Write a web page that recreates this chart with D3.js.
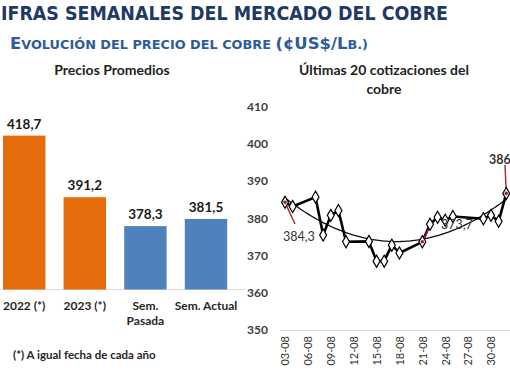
<!DOCTYPE html>
<html><head><meta charset="utf-8">
<script src="https://cdn.jsdelivr.net/npm/d3@7/dist/d3.min.js"></script>
<style>
html,body{margin:0;padding:0;background:#fff;overflow:hidden}
svg{display:block}
</style></head>
<body><svg id="c" width="510" height="382"></svg>
<script>
// ---- Data ----
const barCategories = [["2022 (*)"], ["2023 (*)"], ["Sem.", "Pasada"], ["Sem. Actual"]];
const barValues = [418.7, 391.2, 378.3, 381.5];
const barLabels = ["418,7", "391,2", "378,3", "381,5"];
const barColors = ["#E46C0A", "#E46C0A", "#4F81BD", "#4F81BD"];

const quoteDates = ["2023-08-03","2023-08-04","2023-08-07","2023-08-08","2023-08-09","2023-08-10","2023-08-11",
  "2023-08-14","2023-08-15","2023-08-16","2023-08-17","2023-08-18","2023-08-21","2023-08-22","2023-08-23",
  "2023-08-24","2023-08-25","2023-08-29","2023-08-30","2023-08-31","2023-09-01"];
const quoteValues = [384.3, 383.2, 385.7, 375.5, 380.8, 382.1, 373.7, 373.8, 368.5, 368.5, 372.8, 370.7,
  373.7, 378.4, 380.3, 379.5, 380.5, 379.9, 380.8, 379.2, 386.7];
const yTicks = [350, 360, 370, 380, 390, 400, 410];
const xTickDates = ["2023-08-03","2023-08-06","2023-08-09","2023-08-12","2023-08-15","2023-08-18",
  "2023-08-21","2023-08-24","2023-08-27","2023-08-30"];
const annotations = [
  {i: 0, text: "384,3", lx: 283, ly: 241, x1: 295, y1: 224, bold: false},
  {i: 12, text: "373,7", lx: 441, ly: 229, x1: 432, y1: 222, bold: false},
  {i: 20, text: "386", lx: 489, ly: 164, x1: 505, y1: 165, bold: true}
];

const svg = d3.select("#c");
const parse = d3.utcParse("%Y-%m-%d");
const fmt = d3.utcFormat("%d-%m");

// ---- Titles ----
svg.append("text").attr("x", 1).attr("y", 20)
  .attr("font-family", "DejaVu Sans").attr("font-weight", "bold").attr("font-size", 19)
  .attr("fill", "#1F3864").attr("textLength", 447).attr("lengthAdjust", "spacingAndGlyphs")
  .text("IFRAS SEMANALES DEL MERCADO DEL COBRE");

const sub = svg.append("text").attr("x", 10).attr("y", 49)
  .attr("font-family", "DejaVu Sans").attr("font-weight", "bold").attr("fill", "#2E5C99")
  .attr("textLength", 358).attr("lengthAdjust", "spacingAndGlyphs");
[["E",16],["VOLUCIÓN DEL PRECIO DEL COBRE ",12.5],["(¢US$/L",16],["B.)",12.5]].forEach(([t,s]) =>
  sub.append("tspan").attr("font-size", s).text(t));

const F = "Lato, 'Open Sans', sans-serif";

// ---- Bar chart ----
const xb = d3.scaleBand().domain(d3.range(barValues.length)).range([-6.1, 236.3])
  .paddingInner(0.3).paddingOuter(0.15);
const yb = d3.scaleLinear().domain([350, 430]).range([289.5, 289.5 - 80 * 2.24]);

svg.append("text").attr("x", 112).attr("y", 75).attr("text-anchor", "middle")
  .attr("font-family", F).attr("font-weight", "bold").attr("font-size", 14).attr("fill", "#222")
  .text("Precios Promedios");

svg.append("line").attr("x1", 0).attr("x2", 245).attr("y1", yb(350)).attr("y2", yb(350))
  .attr("stroke", "#d9d9d9").attr("stroke-width", 1);

svg.selectAll("rect.bar").data(barValues).join("rect").attr("class", "bar")
  .attr("x", (d, i) => xb(i)).attr("width", xb.bandwidth())
  .attr("y", d => yb(d)).attr("height", d => yb(350) - yb(d))
  .attr("fill", (d, i) => barColors[i]);

svg.selectAll("text.bl").data(barValues).join("text").attr("class", "bl")
  .attr("x", (d, i) => xb(i) + xb.bandwidth() / 2).attr("y", d => yb(d) - 7)
  .attr("text-anchor", "middle").attr("font-family", F).attr("font-weight", "bold")
  .attr("font-size", 13.5).attr("fill", "#1a1a1a").text((d, i) => barLabels[i]);

barCategories.forEach((lines, i) => {
  lines.forEach((ln, j) => {
    svg.append("text").attr("x", xb(i) + xb.bandwidth() / 2).attr("y", 310 + j * 14.5)
      .attr("text-anchor", "middle").attr("font-family", F).attr("font-weight", "bold")
      .attr("font-size", 12).attr("fill", "#262626").text(ln);
  });
});

svg.append("text").attr("x", 13).attr("y", 359).attr("font-family", F).attr("font-weight", "bold")
  .attr("font-size", 11.5).attr("fill", "#262626").text("(*) A igual fecha de cada año");

// ---- Line chart ----
const dates = quoteDates.map(parse);
const xl = d3.scaleUtc().domain([parse("2023-08-03"), parse("2023-09-01")]).range([285, 285 + 29 * 7.63]);
const yl = d3.scaleLinear().domain([350, 410]).range([330, 106.7]);

svg.append("text").attr("x", 384).attr("y", 75).attr("text-anchor", "middle")
  .attr("font-family", F).attr("font-weight", "bold").attr("font-size", 14).attr("fill", "#222")
  .text("Últimas 20 cotizaciones del");
svg.append("text").attr("x", 384).attr("y", 94).attr("text-anchor", "middle")
  .attr("font-family", F).attr("font-weight", "bold").attr("font-size", 14).attr("fill", "#222")
  .text("cobre");

// y axis
const yAxis = svg.append("g").attr("transform", "translate(268,0)")
  .call(d3.axisLeft(yl).tickValues(yTicks).tickSize(0).tickPadding(0).tickFormat(d3.format("d")));
yAxis.select(".domain").remove();
yAxis.selectAll("text").attr("font-family", F).attr("font-weight", "bold").attr("font-size", 12)
  .attr("fill", "#404040");

// x axis
const xAxis = svg.append("g").attr("transform", `translate(0,${yl(350)})`)
  .call(d3.axisBottom(xl).tickValues(xTickDates.map(parse)).tickSize(0).tickFormat(fmt));
xAxis.select(".domain").attr("d", `M280,0.5H520`).attr("stroke", "#d9d9d9");
xAxis.selectAll("text").attr("font-family", F).attr("font-size", 11).attr("fill", "#333")
  .attr("text-anchor", "end").attr("transform", "rotate(-90)")
  .attr("x", -6).attr("y", 0).attr("dy", "0.35em");

// trendline: least squares polynomial (order 2) of the quotes
const t0 = dates[0].getTime();
const xs = dates.map(d => (d.getTime() - t0) / 864e5);
function polyfit(xv, yv, deg) {
  const n = deg + 1;
  const A = Array.from({length: n}, () => new Array(n + 1).fill(0));
  xv.forEach((x, k) => {
    for (let r = 0; r < n; r++) {
      for (let c = 0; c < n; c++) A[r][c] += Math.pow(x, r + c);
      A[r][n] += yv[k] * Math.pow(x, r);
    }
  });
  for (let p = 0; p < n; p++) {
    let m = p; for (let r = p + 1; r < n; r++) if (Math.abs(A[r][p]) > Math.abs(A[m][p])) m = r;
    [A[p], A[m]] = [A[m], A[p]];
    for (let r = 0; r < n; r++) if (r !== p) {
      const f = A[r][p] / A[p][p];
      for (let c = p; c <= n; c++) A[r][c] -= f * A[p][c];
    }
  }
  return A.map((row, i) => row[n] / row[i]);
}
const coef = polyfit(xs, quoteValues, 2);
const trendX = d3.range(0, xs[xs.length - 1] + 0.001, 0.25);
const trendLine = d3.line().x(t => xl(new Date(t0 + t * 864e5)))
  .y(t => yl(coef.reduce((s, c, i) => s + c * Math.pow(t, i), 0)));
svg.append("path").datum(trendX).attr("d", trendLine).attr("fill", "none")
  .attr("stroke", "#111").attr("stroke-width", 1.3);

// series line
const line = d3.line().x((d, i) => xl(dates[i])).y(d => yl(d));
svg.append("path").datum(quoteValues).attr("d", line).attr("fill", "none")
  .attr("stroke", "#000").attr("stroke-width", 2.6).attr("stroke-linejoin", "round");

// annotations leader lines
annotations.forEach(a => {
  const px = xl(dates[a.i]), py = yl(quoteValues[a.i]);
  svg.append("line").attr("x1", a.x1).attr("y1", a.y1).attr("x2", px).attr("y2", py)
    .attr("stroke", "#A3262A").attr("stroke-width", 1.4);
});

// markers
svg.selectAll("path.mk").data(quoteValues).join("path").attr("class", "mk")
  .attr("d", d3.symbol(d3.symbolDiamond, 42))
  .attr("transform", (d, i) => `translate(${xl(dates[i])},${yl(d)})`)
  .attr("fill", "#fff").attr("stroke", "#000").attr("stroke-width", 1.2);

annotations.forEach(a => {
  const px = xl(dates[a.i]), py = yl(quoteValues[a.i]);
  svg.append("circle").attr("cx", px).attr("cy", py).attr("r", 1.8).attr("fill", "#A3262A");
  svg.append("text").attr("x", a.lx).attr("y", a.ly).attr("font-family", F)
    .attr("font-weight", a.bold ? "bold" : "normal").attr("font-size", 12.5).attr("fill", "#333")
    .text(a.text);
});
</script></body></html>
